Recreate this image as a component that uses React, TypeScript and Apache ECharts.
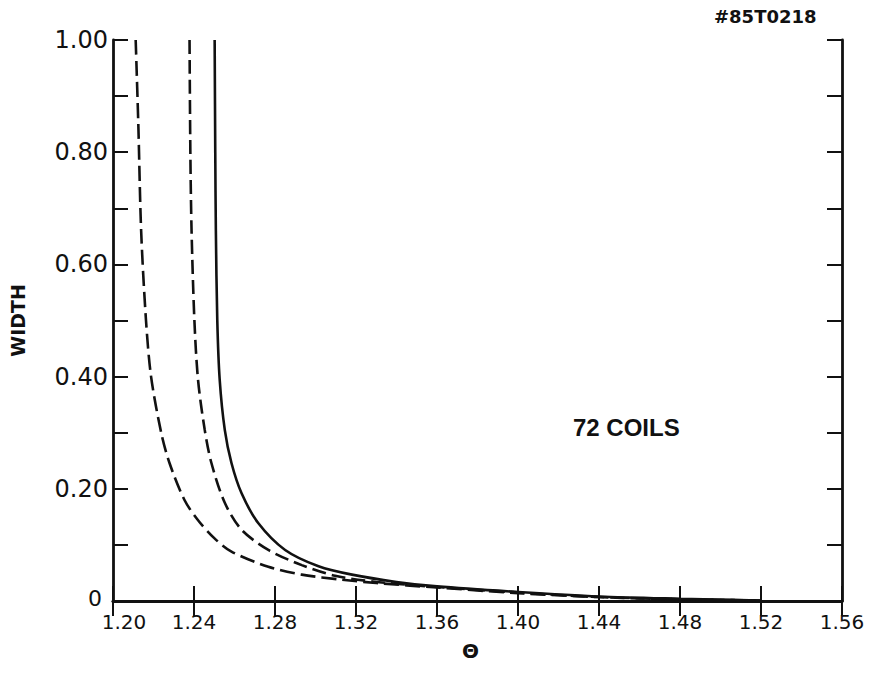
import React, { useEffect, useRef } from "react";
import * as echarts from "echarts";

// theta, width pairs
const curveLongDash: [number, number][] = [
  [1.2112, 1.0], [1.2125, 0.85], [1.2139, 0.66], [1.2163, 0.5], [1.2188, 0.4],
  [1.2238, 0.3], [1.2279, 0.246], [1.2353, 0.18], [1.242, 0.144], [1.25, 0.112],
  [1.2585, 0.088], [1.2767, 0.061], [1.2932, 0.047], [1.313, 0.038], [1.33, 0.032],
  [1.36, 0.024], [1.4, 0.014], [1.44, 0.007], [1.48, 0.003], [1.52, 0.001],
];
const curveDash: [number, number][] = [
  [1.2378, 1.0], [1.2382, 0.8], [1.2388, 0.66], [1.2402, 0.5], [1.242, 0.394],
  [1.2453, 0.305], [1.2486, 0.246], [1.2552, 0.175], [1.2635, 0.127], [1.2767, 0.091],
  [1.2932, 0.064], [1.3097, 0.045], [1.33, 0.034], [1.36, 0.025], [1.4, 0.015],
  [1.44, 0.007], [1.48, 0.003], [1.52, 0.001],
];
const curveSolid: [number, number][] = [
  [1.2502, 1.0], [1.2505, 0.8], [1.2508, 0.66], [1.2515, 0.5], [1.2527, 0.394],
  [1.2552, 0.305], [1.2585, 0.246], [1.2635, 0.192], [1.2717, 0.139], [1.285, 0.091],
  [1.3015, 0.062], [1.318, 0.047], [1.34, 0.034], [1.36, 0.026], [1.4, 0.016],
  [1.44, 0.008], [1.48, 0.004], [1.52, 0.001],
];

const xMin = 1.2;
const xMax = 1.56;
const xStep = 0.04;
const yMin = 0;
const yMax = 1;
const yStep = 0.1;

const xTitle = "Θ";
const yTitle = "WIDTH";
const noteText = "72 COILS";
const idText = "#85T0218";

export default function App() {
  const ref = useRef<HTMLDivElement>(null);
  useEffect(() => {
    document.body.style.margin = "0";
    const chart = echarts.init(ref.current!, undefined, { renderer: "svg" });
    const black = "#111";
    const tick = { show: true, inside: true, length: 15, lineStyle: { color: black, width: 2 } };
    const line = { show: true, lineStyle: { color: black, width: 2.8 } };
    const mkSeries = (data: [number, number][], type: any) => ({
      type: "line",
      data,
      showSymbol: false,
      symbol: "none",
      smooth: 0.3,
      lineStyle: { color: black, width: 2.6, type },
      xAxisIndex: 0,
      yAxisIndex: 0,
    });
    chart.setOption({
      animation: false,
      backgroundColor: "#fff",
      grid: { left: 112, right: 31, top: 40, bottom: 76, show: false },
      xAxis: [
        {
          type: "value",
          min: xMin,
          max: xMax,
          interval: xStep,
          position: "bottom",
          axisLine: line,
          axisTick: tick,
          splitLine: { show: false },
          axisLabel: {
            color: black,
            fontFamily: "DejaVu Sans",
            fontSize: 20,
            margin: 11,
            formatter: (v: number) =>
              Math.abs(v - xMin) < 1e-6 ? "{f|" + v.toFixed(2) + "}" : v.toFixed(2),
            rich: {
              f: { fontFamily: "DejaVu Sans", fontSize: 20, color: black, padding: [0, 0, 0, 22] },
            },
          },
          name: xTitle,
          nameLocation: "middle",
          nameGap: 40,
          nameTextStyle: { color: black, fontFamily: "DejaVu Sans", fontSize: 20, fontWeight: "bold", padding: [0, 14, 0, 0] },
        },
        {
          type: "value",
          min: xMin,
          max: xMax,
          interval: xStep,
          position: "top",
          axisLine: line,
          axisTick: tick,
          axisLabel: { show: false },
          splitLine: { show: false },
        },
      ],
      yAxis: [
        {
          type: "value",
          min: yMin,
          max: yMax,
          interval: yStep,
          position: "left",
          axisLine: line,
          axisTick: tick,
          splitLine: { show: false },
          axisLabel: {
            color: black,
            fontFamily: "DejaVu Sans",
            fontSize: 24,
            margin: 5,
            formatter: (v: number) => {
              const k = Math.round(v * 10);
              if (k % 2 !== 0) return "";
              if (k === 0) return "{z|0}";
              return v.toFixed(2);
            },
            rich: {
              z: { fontFamily: "DejaVu Sans", fontSize: 22, color: black, padding: [0, 6, 6, 0] },
            },
          },
          name: yTitle,
          nameLocation: "middle",
          nameGap: 86,
          nameTextStyle: { color: black, fontFamily: "DejaVu Sans", fontSize: 19, fontWeight: "bold" },
        },
        {
          type: "value",
          min: yMin,
          max: yMax,
          interval: yStep,
          position: "right",
          axisLine: line,
          axisTick: tick,
          axisLabel: { show: false },
          splitLine: { show: false },
        },
      ],
      graphic: [
        {
          type: "text",
          left: 573,
          top: 415,
          style: { text: noteText, fill: black, font: "bold 24px 'Liberation Sans'" },
        },
        {
          type: "text",
          left: 714,
          top: 7,
          style: { text: idText, fill: black, font: "bold 18px 'DejaVu Sans'" },
        },
      ],
      series: [
        mkSeries(curveLongDash, [15, 6]),
        mkSeries(curveDash, [14, 6]),
        mkSeries(curveSolid, "solid"),
      ],
    });
    return () => chart.dispose();
  }, []);
  return (
    <div
      ref={ref}
      style={{ position: "fixed", left: 0, top: 0, width: 873, height: 677, background: "#fff" }}
    />
  );
}
